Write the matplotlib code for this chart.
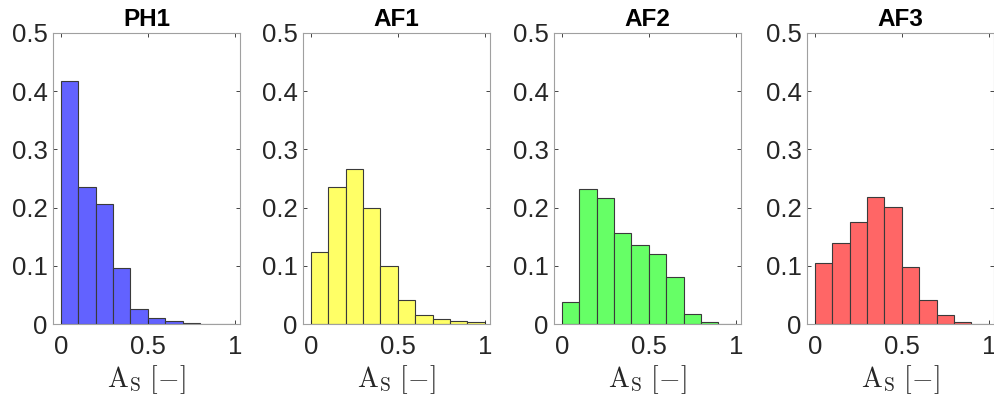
import numpy as np
import matplotlib
matplotlib.use("Agg")
import matplotlib.pyplot as plt

plt.rcParams['font.family'] = ['Liberation Sans', 'DejaVu Sans']
plt.rcParams['mathtext.fontset'] = 'cm'

# bin edges 0:0.1:1, relative frequencies
bin_edges = np.round(np.arange(0, 1.01, 0.1), 2)
titles = ['PH1', 'AF1', 'AF2', 'AF3']
ph1 = [0.417, 0.236, 0.207, 0.096, 0.026, 0.010, 0.005, 0.002, 0.0, 0.0]
af1 = [0.123, 0.236, 0.267, 0.199, 0.100, 0.042, 0.016, 0.008, 0.005, 0.003]
af2 = [0.037, 0.232, 0.216, 0.156, 0.135, 0.120, 0.080, 0.017, 0.003, 0.0]
af3 = [0.105, 0.140, 0.175, 0.219, 0.201, 0.098, 0.042, 0.015, 0.003, 0.0]
colors = ['#6262ff', '#ffff66', '#66ff66', '#ff6666']

series = [ph1, af1, af2, af3]
lefts_px = [53, 303, 554, 807]

fig = plt.figure(figsize=(9.95, 4.03), dpi=100)

for i in range(4):
    ax = fig.add_axes([lefts_px[i] / 995, 79 / 403, 187 / 995, 291 / 403])
    ax.bar(bin_edges[:-1], series[i], width=0.1, align='edge',
           color=colors[i], edgecolor='#3a3a3a', linewidth=0.8)
    ax.set_xlim(-0.045, 1.03)
    ax.set_ylim(0, 0.5)
    ax.set_xticks([0, 0.5, 1])
    ax.set_xticklabels(['0', '0.5', '1'])
    ax.set_yticks([0, 0.1, 0.2, 0.3, 0.4, 0.5])
    ax.set_yticklabels(['0', '0.1', '0.2', '0.3', '0.4', '0.5'])
    ax.tick_params(direction='in', top=True, right=True, labelsize=18.5,
                   colors='#262626', length=3, width=0.6)
    ax.tick_params(axis='x', pad=8)
    ax.tick_params(axis='y', pad=4)
    for sp in ax.spines.values():
        sp.set_color('#a0a0a0')
        sp.set_linewidth(0.8)
    ax.set_title(titles[i], fontsize=17.5, fontweight='bold', pad=5)
    ax.set_xlabel(r'$\mathrm{A_S}\ [-]$', fontsize=20, color='#262626', labelpad=3)

fig.savefig('out.png', dpi=100)
